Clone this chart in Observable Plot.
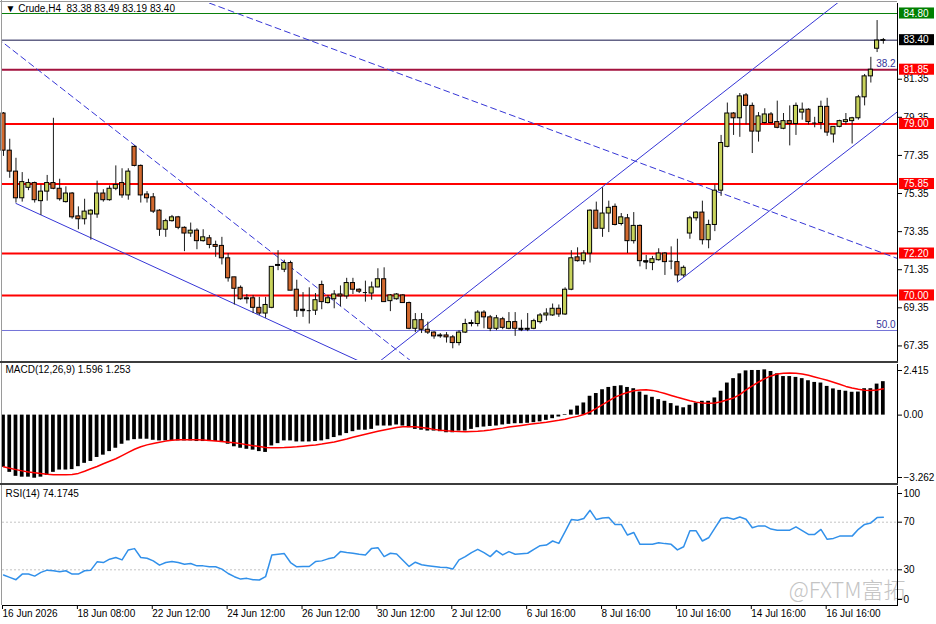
<!DOCTYPE html>
<html><head><meta charset="utf-8">
<script src="https://cdn.jsdelivr.net/npm/d3@7"></script>
<script src="https://cdn.jsdelivr.net/npm/@observablehq/plot@0.6"></script>
<style>
body{margin:0;background:#fff;}
#chart{position:relative;width:936px;height:624px;overflow:hidden;background:#fff;font-family:"Liberation Sans",Arial,sans-serif;}
.panel{position:absolute;left:0;}
.panel svg{display:block;}
.bar{position:absolute;}
</style></head><body><div id="chart"></div>
<script>
// ---------------- DATA ----------------
const symbolTitle = "▼ Crude,H4\u00a0\u00a083.38 83.49 83.19 83.40";
const macdTitle = "MACD(12,26,9) 1.596 1.253";
const rsiTitle = "RSI(14) 74.1745";
const watermark = "@FXTM富拓";

const open = [79.55,77.6,76.5,75.1,75.65,75.9,74.95,75.45,75.9,75.6,
74.9,75.35,74.15,74.0,74.25,74.25,75.35,75.0,75.6,75.9,
75.25,77.8,76.8,75.3,75.15,74.45,73.45,73.9,74.1,73.55,
73.25,73.4,72.85,73.0,72.65,72.6,71.95,70.95,70.4,69.8,
69.85,69.35,69.05,69.35,71.55,71.35,71.7,70.3,69.25,69.2,
69.2,70.55,69.6,69.8,70.05,69.95,70.65,70.3,70.15,70.1,
70.42,70.85,69.7,69.8,70.0,69.6,68.25,68.7,68.2,68.05,
67.85,67.9,67.8,67.5,68.05,68.5,68.5,69.1,68.85,68.25,
68.75,68.25,68.6,68.25,68.2,68.25,68.6,68.95,68.95,69.3,
69.0,70.3,72.0,71.8,72.2,74.45,73.5,74.3,74.65,73.75,
74.05,72.85,73.65,71.8,71.7,71.85,72.2,71.8,71.75,71.05,
73.25,74.05,74.35,72.9,73.7,75.5,77.8,79.55,79.3,80.5,
79.95,78.6,79.05,79.5,79.1,78.75,79.15,79.0,79.6,79.75,
79.05,79.05,79.9,78.45,78.85,79.1,79.15,79.3,80.4,81.5,
82.95,83.38];
const high = [79.6,78.2,77.2,76.45,76.1,75.95,75.8,76.3,79.3,76.1,
75.7,75.4,74.65,75.05,74.5,76.0,75.55,75.75,76.8,76.65,
76.65,77.85,76.85,75.45,75.35,74.5,74.0,74.2,74.15,73.6,
73.8,73.5,73.45,73.15,72.85,73.05,72.2,70.95,70.5,70.05,
70.0,69.9,69.9,71.5,72.35,71.85,71.8,70.8,70.15,70.4,
70.1,70.75,70.0,70.25,70.5,70.9,70.9,70.35,70.75,70.7,
71.4,71.45,70.05,70.1,70.05,69.65,69.05,69.05,68.6,68.1,
68.0,68.05,67.9,68.15,68.75,68.7,69.2,69.2,68.95,68.95,
68.85,69.1,69.1,68.7,69.05,68.75,69.05,69.3,69.55,69.5,
70.4,72.35,72.5,72.35,74.5,74.9,75.65,74.95,74.8,74.3,
74.25,74.35,73.7,72.1,72.05,72.45,72.25,72.55,72.95,71.55,
74.15,74.4,74.95,73.95,75.8,78.4,80.1,79.6,80.6,80.6,
80.1,79.6,79.8,79.6,80.2,79.55,79.95,80.1,80.1,79.8,
79.35,80.2,80.35,78.85,79.2,79.55,79.35,80.5,81.6,82.5,
84.43,83.49];
const low = [77.3,76.15,74.85,74.9,75.5,74.85,74.2,74.95,75.55,74.95,
74.85,74.0,73.45,73.7,72.9,74.05,74.9,74.95,75.5,75.1,
75.0,76.75,74.85,74.85,74.3,73.1,73.05,73.85,73.45,72.3,
73.05,72.4,72.8,72.45,72.0,71.6,70.7,69.5,69.75,69.55,
69.05,68.95,68.8,69.3,71.3,71.2,70.25,68.85,68.85,68.5,
68.95,69.25,69.55,69.3,69.4,69.8,70.05,70.1,69.65,69.75,
70.4,69.65,69.15,69.75,69.6,68.2,68.05,68.0,67.95,67.7,
67.75,67.5,67.2,67.35,68.0,68.35,68.35,68.25,68.1,68.15,
68.2,68.2,67.85,68.1,68.1,68.2,68.5,68.65,68.9,68.85,
68.95,70.25,71.75,71.6,71.7,73.5,73.05,73.3,73.65,73.65,
72.2,72.7,71.5,71.35,71.3,71.8,71.05,71.35,70.7,70.95,
72.95,73.9,72.65,72.45,73.35,75.2,77.75,78.4,78.3,78.95,
77.45,78.05,79.0,79.0,78.75,78.7,77.85,78.4,79.2,78.95,
78.8,78.7,78.35,78.0,78.8,78.95,77.95,79.2,79.95,81.15,
82.75,83.19];
const close = [77.6,76.5,75.1,75.95,75.9,75.0,75.45,75.9,75.6,75.05,
75.35,74.1,74.0,74.4,74.45,75.35,75.0,75.6,75.8,75.25,
76.5,76.8,75.25,75.1,74.4,73.45,73.9,74.1,73.55,73.25,
73.4,72.85,73.05,72.65,72.55,71.95,70.9,70.35,69.8,69.85,
69.35,69.05,69.5,71.5,71.6,71.7,70.25,69.2,69.2,69.2,
69.75,69.65,69.85,70.05,69.95,70.65,70.3,70.2,70.15,70.42,
70.85,69.65,70.0,70.05,69.6,68.25,68.7,68.2,68.05,67.85,
67.9,67.8,67.5,68.05,68.5,68.55,69.1,68.85,68.25,68.8,
68.3,68.6,68.25,68.2,68.25,68.65,68.95,69.05,69.3,69.0,
70.3,71.95,71.8,72.2,74.45,73.5,74.3,74.6,73.7,74.1,
72.85,73.65,71.8,71.75,71.9,72.2,71.75,71.8,71.05,71.45,
74.05,74.35,72.9,73.7,75.5,78.0,79.55,79.3,80.45,79.95,
78.6,79.4,79.5,79.05,78.8,79.15,79.0,79.95,79.75,79.1,
79.05,79.9,78.55,78.85,79.15,79.2,79.3,80.4,81.5,81.85,
83.38,83.40];

const macdHist = [-2.49,-2.73,-2.92,-2.96,-2.96,-3.01,-2.96,-2.88,-2.73,-2.62,
-2.62,-2.60,-2.46,-2.30,-2.21,-2.02,-1.91,-1.74,-1.58,-1.39,
-1.23,-1.17,-1.15,-1.15,-1.20,-1.23,-1.23,-1.23,-1.23,-1.23,
-1.23,-1.26,-1.26,-1.26,-1.26,-1.31,-1.39,-1.51,-1.58,-1.63,
-1.67,-1.74,-1.78,-1.47,-1.36,-1.23,-1.23,-1.28,-1.28,-1.28,
-1.26,-1.23,-1.17,-1.07,-0.99,-0.88,-0.79,-0.72,-0.72,-0.68,
-0.52,-0.52,-0.52,-0.47,-0.52,-0.60,-0.68,-0.72,-0.76,-0.76,
-0.79,-0.84,-0.84,-0.76,-0.76,-0.68,-0.60,-0.57,-0.54,-0.52,
-0.47,-0.44,-0.41,-0.41,-0.39,-0.36,-0.32,-0.25,-0.17,-0.09,
0.03,0.24,0.43,0.58,0.90,1.03,1.21,1.32,1.37,1.40,
1.32,1.26,1.10,0.95,0.85,0.74,0.66,0.55,0.43,0.35,
0.47,0.58,0.66,0.66,0.82,1.14,1.53,1.74,1.97,2.11,
2.13,2.13,2.16,2.08,1.97,1.84,1.84,1.80,1.74,1.64,
1.56,1.53,1.37,1.25,1.18,1.14,1.09,1.10,1.26,1.26,
1.48,1.596];
const macdSignal = [-2.46,-2.53,-2.60,-2.66,-2.71,-2.75,-2.79,-2.82,-2.84,-2.84,
-2.84,-2.83,-2.78,-2.68,-2.56,-2.45,-2.32,-2.20,-2.08,-1.93,
-1.78,-1.63,-1.51,-1.42,-1.35,-1.29,-1.24,-1.20,-1.17,-1.17,
-1.17,-1.18,-1.19,-1.21,-1.23,-1.26,-1.29,-1.32,-1.36,-1.41,
-1.46,-1.50,-1.54,-1.56,-1.56,-1.55,-1.53,-1.51,-1.48,-1.45,
-1.42,-1.38,-1.33,-1.28,-1.21,-1.14,-1.06,-0.98,-0.91,-0.84,
-0.77,-0.71,-0.65,-0.59,-0.56,-0.55,-0.55,-0.59,-0.63,-0.68,
-0.72,-0.75,-0.77,-0.78,-0.79,-0.78,-0.77,-0.75,-0.71,-0.66,
-0.62,-0.57,-0.53,-0.49,-0.45,-0.41,-0.38,-0.34,-0.29,-0.25,
-0.20,-0.12,-0.06,0.03,0.15,0.32,0.50,0.68,0.86,0.98,
1.08,1.16,1.20,1.21,1.18,1.11,1.03,0.94,0.85,0.77,
0.69,0.62,0.58,0.57,0.58,0.64,0.73,0.82,0.98,1.20,
1.40,1.58,1.74,1.87,1.96,2.00,2.01,2.00,1.96,1.90,
1.82,1.74,1.66,1.57,1.47,1.37,1.29,1.23,1.19,1.18,
1.20,1.253];
const rsi = [25.6,23.6,21.7,26.4,26.4,24.7,27.8,29.7,29.2,28.3,
29.2,26.4,26.4,29.2,29.7,36.7,36.1,38.9,40.3,38.3,
46.7,47.8,40.3,39.7,37.5,33.9,36.1,36.9,36.1,34.7,
35.3,33.3,33.3,32.5,32.5,30.6,26.9,24.2,22.2,22.8,
21.7,21.4,24.2,42.5,43.1,43.6,36.1,32.5,32.8,32.8,
36.9,37.5,39.2,40.3,45.3,44.5,43.9,43.0,42.5,48.0,
48.6,41.1,43.9,43.3,38.0,32.8,36.4,34.2,33.5,32.8,
32.2,31.9,30.6,38.3,41.1,44.5,47.2,44.4,41.1,46.1,
42.5,45.3,43.1,43.5,43.9,47.2,50.3,50.8,54.2,52.2,
62.0,72.2,71.7,73.1,80.0,72.2,73.5,73.9,68.1,68.1,
59.2,61.4,51.4,51.4,51.4,52.8,52.0,51.4,46.7,49.4,
62.8,62.8,54.2,56.9,65.0,73.1,73.9,72.5,74.4,72.5,
65.3,66.9,66.9,64.2,63.3,63.3,63.3,66.1,63.0,59.7,
59.7,63.9,55.6,56.4,58.3,58.3,58.3,64.0,68.1,69.4,
73.9,74.17];

const tickBars = [0,12,24,36,48,60,72,84,96,108,120,132];
const tickLabels = ["16 Jun 2026","18 Jun 08:00","22 Jun 12:00","24 Jun 12:00","26 Jun 12:00","30 Jun 12:00","2 Jul 12:00","6 Jul 16:00","8 Jul 16:00","10 Jul 16:00","14 Jul 16:00","16 Jul 16:00"];
const priceTicks = [81.35,79.35,77.35,75.35,73.35,71.35,69.35,67.35];
const macdTicks = [2.415, 0, -3.262];
const rsiTicks = [100, 70, 30, 0];
const rsiLevels = [70, 30];

const supportResistance = [79.00, 75.85, 72.20, 70.00];
const highLevel = 84.80;
const bidPrice = 83.40;
const fibPrices = [81.85, 68.16];
const fibNames = ["38.2", "50.0"];
const tagPrices = [84.80, 83.40, 81.85, 79.00, 75.85, 72.20, 70.00];

// trend lines: [bar index, price]
const downChannelLow = [[2, 74.83], [60, 66.10]];
const downDashedA = [[-1, 83.51], [66, 66.38]];
const downDashedB = [[30, 85.71], [144, 71.85]];
const upChannelHigh = [[60, 66.47], [135, 85.70]];
const upChannelLow = [[108, 70.70], [144, 79.83]];

// ---------------- DRAW ----------------
const N = open.length;
const candles = d3.range(N).map(i => ({i, o: open[i], h: high[i], l: low[i], c: close[i]}));
const xDomain = [-0.16, 143.27];
const pxPerBar = 6.24;
const W = 936, ML = 2, MR = 39;
const FONT = "'Liberation Sans', Arial, sans-serif";
const baseStyle = {fontFamily: FONT, fontSize: "10px", background: "transparent", overflow: "visible", color: "#000"};
const BULL = "#c8d35c", BEAR = "#d2692e", TL = "#3636d6";
const xr = xDomain[1];

const chart = document.getElementById("chart");
function place(svg, top) {
  const d = document.createElement("div");
  d.className = "panel"; d.style.top = top + "px";
  d.appendChild(svg); chart.appendChild(d);
}
function bar(left, top, w, h, color) {
  const d = document.createElement("div");
  d.className = "bar";
  Object.assign(d.style, {left: left+"px", top: top+"px", width: w+"px", height: h+"px", background: color});
  chart.appendChild(d);
}
const bw = 0.33;
const tline = (pts, dash) => Plot.line(pts, {x: d => d[0], y: d => d[1], stroke: TL, strokeWidth: 1, clip: true, strokeDasharray: dash});
const tagColor = p => p === highLevel ? "#008000" : p === bidPrice ? "#000000" : "#ff0000";

const price = Plot.plot({
  width: W, height: 361, marginTop: 3, marginBottom: 1, marginLeft: ML, marginRight: MR,
  x: {domain: xDomain, axis: null},
  y: {domain: [66.585, 85.325], axis: null},
  style: baseStyle,
  marks: [
    Plot.ruleY([fibPrices[1]], {stroke: "#7474d8", strokeWidth: 1}),
    Plot.ruleY(supportResistance, {stroke: "#ff0000", strokeWidth: 2}),
    Plot.ruleY([fibPrices[0]], {stroke: "#a3123e", strokeWidth: 2}),
    Plot.ruleY([highLevel], {stroke: "#0a800a", strokeWidth: 1}),
    Plot.ruleY([bidPrice], {stroke: "#14144a", strokeWidth: 1}),
    tline(downChannelLow),
    tline(downDashedA, "6,4"),
    tline(downDashedB, "6,4"),
    tline(upChannelHigh),
    tline(upChannelLow),
    Plot.text(fibNames, {x: xr - 0.3, y: (d, i) => fibPrices[i], text: d => d, textAnchor: "end", dy: -6, fill: "#33339a"}),
    Plot.ruleX(candles, {x: "i", y1: "l", y2: "h", stroke: "#1a1a1a", strokeWidth: 1}),
    Plot.rect(candles.filter(d => d.c >= d.o), {x1: d => d.i - bw, x2: d => d.i + bw, y1: "o", y2: "c", fill: BULL, stroke: "#000", strokeWidth: 1}),
    Plot.rect(candles.filter(d => d.c < d.o), {x1: d => d.i - bw, x2: d => d.i + bw, y1: "o", y2: "c", fill: BEAR, stroke: "#000", strokeWidth: 1}),
    Plot.ruleY(candles.filter(d => Math.abs(d.c - d.o) < 0.06), {y: "c", x1: d => d.i - bw, x2: d => d.i + bw, stroke: "#000", strokeWidth: 1}),
    Plot.axisY({anchor: "right", ticks: priceTicks, tickFormat: ".2f", tickSize: 4, tickPadding: 2, label: null, fill: "#000"}),
    Plot.frame({anchor: "right", stroke: "#000"}),
    Plot.rect(tagPrices, {x1: xr + 2/pxPerBar, x2: xr + 37/pxPerBar, y1: d => d - 0.29, y2: d => d + 0.29, fill: tagColor}),
    Plot.text(tagPrices, {x: xr + 6/pxPerBar, y: d => d, text: d => d.toFixed(2), textAnchor: "start", fill: "#ffffff"}),
    Plot.text([symbolTitle], {frameAnchor: "top-left", dx: 3, dy: 1, lineAnchor: "top", textAnchor: "start", fill: "#000"})
  ]
});
place(price, 0);

const macdData = d3.range(N).map(i => ({i, h: macdHist[i], s: macdSignal[i]}));
const macd = Plot.plot({
  width: W, height: 122, marginTop: 2, marginBottom: 1, marginLeft: ML, marginRight: MR,
  x: {domain: xDomain, axis: null},
  y: {domain: [-3.262, 2.415], axis: null},
  style: baseStyle,
  marks: [
    Plot.rect(macdData, {x1: d => d.i - 0.3, x2: d => d.i + 0.3, y1: 0, y2: "h", fill: "#000"}),
    Plot.line(macdData, {x: "i", y: "s", stroke: "#ff0000", strokeWidth: 1.5}),
    Plot.axisY({anchor: "right", ticks: [macdTicks[0]], tickFormat: ".3f", tickSize: 4, tickPadding: 2, dy: 6, label: null}),
    Plot.axisY({anchor: "right", ticks: [macdTicks[1]], tickFormat: ".2f", tickSize: 4, tickPadding: 2, label: null}),
    Plot.axisY({anchor: "right", ticks: [macdTicks[2]], tickFormat: ".3f", tickSize: 4, tickPadding: 2, dy: -6, label: null}),
    Plot.frame({anchor: "right", stroke: "#000"}),
    Plot.text([macdTitle], {frameAnchor: "top-left", dx: 3, dy: 1, lineAnchor: "top", textAnchor: "start", fill: "#000"})
  ]
});
place(macd, 362);

const rsiData = d3.range(N).map(i => ({i, v: rsi[i]}));
const rsiPlot = Plot.plot({
  width: W, height: 139, marginTop: 1, marginBottom: 19, marginLeft: ML, marginRight: MR,
  x: {domain: xDomain},
  y: {domain: [0, 100], axis: null},
  style: baseStyle,
  marks: [
    Plot.ruleY(rsiLevels, {stroke: "#c4c4c4", strokeDasharray: "2,2"}),
    Plot.text([watermark], {frameAnchor: "bottom-right", dx: 8, dy: -8, textAnchor: "end", lineAnchor: "bottom", fontSize: 22, fill: "#c4c4c4", fontFamily: "'Noto Sans CJK SC', sans-serif", fontWeight: 300}),
    Plot.line(rsiData, {x: "i", y: "v", stroke: "#3190ea", strokeWidth: 1.5}),
    Plot.axisY({anchor: "right", ticks: [rsiTicks[0]], tickFormat: "d", tickSize: 4, tickPadding: 2, dy: 7, label: null}),
    Plot.axisY({anchor: "right", ticks: [rsiTicks[1], rsiTicks[2]], tickFormat: "d", tickSize: 4, tickPadding: 2, label: null}),
    Plot.axisY({anchor: "right", ticks: [rsiTicks[3]], tickFormat: "d", tickSize: 4, tickPadding: 2, dy: -6, label: null}),
    Plot.axisX({anchor: "bottom", ticks: tickBars, tickFormat: d => tickLabels[tickBars.indexOf(d)], tickSize: 4, tickPadding: 0, textAnchor: "start", dx: -1, label: null}),
    Plot.frame({anchor: "right", stroke: "#000"}),
    Plot.frame({anchor: "bottom", stroke: "#000"}),
    Plot.text([rsiTitle], {frameAnchor: "top-left", dx: 3, dy: 3, lineAnchor: "top", textAnchor: "start", fill: "#000"})
  ]
});
place(rsiPlot, 485);

// window chrome: borders and panel separators
bar(0, 1, 897, 1, "#9a9a9a");
bar(1, 0, 1, 605, "#9a9a9a");
bar(0, 361, 898, 2, "#3c3c3c");
bar(0, 483, 898, 2, "#3c3c3c");
</script>
</body></html>
